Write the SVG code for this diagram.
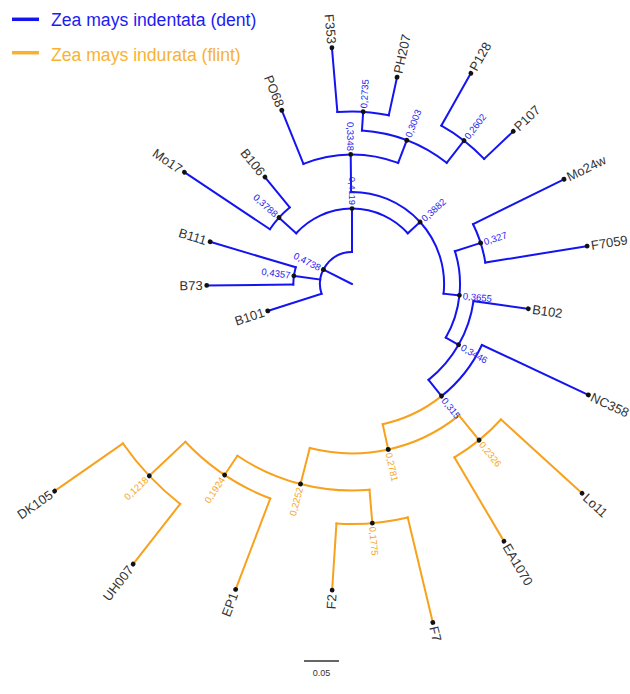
<svg xmlns="http://www.w3.org/2000/svg" width="630" height="694" viewBox="0 0 630 694">
<style>
.e{fill:none;stroke-width:2;stroke-linecap:square;stroke-linejoin:miter}
.b{stroke:#1414F0}
.o{stroke:#F7A11C}
.d{fill:#111}
.tip{font-family:"Liberation Sans",Arial,sans-serif;font-size:13px;fill:#333;dominant-baseline:central}
.nl{font-family:"Liberation Sans",Arial,sans-serif;font-size:9.5px;dominant-baseline:central}
.nb{fill:#2424F0}
.no{fill:#F5A623}
.leg{font-family:"Liberation Sans",Arial,sans-serif;font-size:17.6px}
</style>
<rect width="630" height="694" fill="#fff"/>
<g id="legend">
<line x1="12" y1="19.3" x2="39" y2="19.3" stroke="#1414F0" stroke-width="3.5"/>
<text class="leg" x="51" y="26" fill="#1C1CF5">Zea mays indentata (dent)</text>
<line x1="12" y1="52.7" x2="39" y2="52.7" stroke="#F9B030" stroke-width="3.5"/>
<text class="leg" x="51" y="60.5" fill="#F9B233">Zea mays indurata (flint)</text>
</g>
<g transform="translate(352 284)">
<g id="connectors">
<g class="e b">
<line x1="0" x2="32" transform="rotate(206.76)"/>
<path d="M32 0A32 32 0 0 1 -9.737 30.483" transform="rotate(162.286)"/>
<line x1="32" x2="88.4" transform="rotate(162.286)"/>
<line x1="32" x2="58.75" transform="rotate(188)"/>
<path d="M58.75 0A58.75 58.75 0 0 1 56.14 17.317" transform="rotate(179.429)"/>
<line x1="58.75" x2="145.3" transform="rotate(179.429)"/>
<line x1="58.75" x2="148" transform="rotate(196.571)"/>
<line x1="32" x2="75.45" transform="rotate(270)"/>
<path d="M75.45 0A75.45 75.45 0 0 1 -7.132 75.112" transform="rotate(222.286)"/>
<line x1="75.45" x2="98.69" transform="rotate(222.286)"/>
<path d="M98.69 0A98.69 98.69 0 0 1 94.305 29.09" transform="rotate(213.714)"/>
<line x1="98.69" x2="201.5" transform="rotate(213.714)"/>
<line x1="98.69" x2="137.9" transform="rotate(230.857)"/>
<line x1="75.45" x2="92.09" transform="rotate(317.71)"/>
<path d="M92.09 0A92.09 92.09 0 0 1 -10.538 91.485" transform="rotate(269.429)"/>
<line x1="92.09" x2="129.58" transform="rotate(269.429)"/>
<path d="M129.58 0A129.58 129.58 0 0 1 94.989 88.137" transform="rotate(248)"/>
<line x1="129.58" x2="187.4" transform="rotate(248)"/>
<line x1="129.58" x2="153.8" transform="rotate(290.857)"/>
<path d="M153.8 0A153.8 153.8 0 0 1 127.077 86.64" transform="rotate(273.714)"/>
<line x1="153.8" x2="172.61" transform="rotate(273.714)"/>
<path d="M172.61 0A172.61 172.61 0 0 1 164.941 50.879" transform="rotate(265.143)"/>
<line x1="172.61" x2="237.1" transform="rotate(265.143)"/>
<line x1="172.61" x2="211.7" transform="rotate(282.286)"/>
<line x1="153.8" x2="181.95" transform="rotate(308)"/>
<path d="M181.95 0A181.95 181.95 0 0 1 173.866 53.632" transform="rotate(299.429)"/>
<line x1="181.95" x2="242" transform="rotate(299.429)"/>
<line x1="181.95" x2="222.1" transform="rotate(316.571)"/>
<line x1="92.09" x2="108.03" transform="rotate(6)"/>
<path d="M108.03 0A108.03 108.03 0 0 1 73.111 79.535" transform="rotate(342.286)"/>
<line x1="108.03" x2="135.05" transform="rotate(342.286)"/>
<path d="M135.05 0A135.05 135.05 0 0 1 129.05 39.807" transform="rotate(333.714)"/>
<line x1="135.05" x2="236.5" transform="rotate(333.714)"/>
<line x1="135.05" x2="238.2" transform="rotate(350.857)"/>
<line x1="108.03" x2="122.7" transform="rotate(29.696)"/>
<path d="M122.7 0A122.7 122.7 0 0 1 89.162 84.297" transform="rotate(8)"/>
<line x1="122.7" x2="178.1" transform="rotate(8)"/>
<line x1="122.7" x2="143.48" transform="rotate(51.393)"/>
<path d="M143.48 0A143.48 143.48 0 0 1 128.684 63.46" transform="rotate(25.143)"/>
<line x1="143.48" x2="261.1" transform="rotate(25.143)"/>
</g>
<g class="e o">
<path d="M143.48 0A143.48 143.48 0 0 1 128.684 63.46" transform="rotate(51.393)"/>
<line x1="143.48" x2="169.38" transform="rotate(77.643)"/>
<path d="M169.38 0A169.38 169.38 0 0 1 100.58 136.285" transform="rotate(50.857)"/>
<line x1="169.38" x2="201.32" transform="rotate(50.857)"/>
<path d="M201.32 0A201.32 201.32 0 0 1 192.375 59.341" transform="rotate(42.286)"/>
<line x1="201.32" x2="311" transform="rotate(42.286)"/>
<line x1="201.32" x2="298.8" transform="rotate(59.429)"/>
<line x1="169.38" x2="206.52" transform="rotate(104.429)"/>
<path d="M206.52 0A206.52 206.52 0 0 1 161.466 128.761" transform="rotate(85.143)"/>
<line x1="206.52" x2="240" transform="rotate(85.143)"/>
<path d="M240 0A240 240 0 0 1 229.337 70.742" transform="rotate(76.571)"/>
<line x1="240" x2="348" transform="rotate(76.571)"/>
<line x1="240" x2="306.8" transform="rotate(93.714)"/>
<line x1="206.52" x2="229.54" transform="rotate(123.714)"/>
<path d="M229.54 0A229.54 229.54 0 0 1 206.811 99.593" transform="rotate(110.857)"/>
<line x1="229.54" x2="326.8" transform="rotate(110.857)"/>
<line x1="229.54" x2="279.1" transform="rotate(136.571)"/>
<path d="M279.1 0A279.1 279.1 0 0 1 266.7 82.268" transform="rotate(128)"/>
<line x1="279.1" x2="355.5" transform="rotate(128)"/>
<line x1="279.1" x2="362.4" transform="rotate(145.143)"/>
</g>
</g>
<g id="n-0.4738"><circle class="d" cx="32" r="2.4" transform="rotate(206.76)"/><text class="nl nb" x="35.5" text-anchor="end" transform="rotate(206.76) rotate(180 35.5 0)">0,4738</text></g>
<g id="n-0.4357"><circle class="d" cx="58.75" r="2.4" transform="rotate(188)"/><text class="nl nb" x="62.25" text-anchor="end" transform="rotate(188) rotate(180 62.25 0)">0,4357</text></g>
<g id="n-0.4119"><circle class="d" cx="75.45" r="2.4" transform="rotate(270)"/><text class="nl nb" x="78.95" text-anchor="end" transform="rotate(270) rotate(180 78.95 0)">0,4119</text></g>
<g id="n-0.3788"><circle class="d" cx="98.69" r="2.4" transform="rotate(222.286)"/><text class="nl nb" x="102.19" text-anchor="end" transform="rotate(222.286) rotate(180 102.19 0)">0,3788</text></g>
<g id="n-0.3882"><circle class="d" cx="92.09" r="2.4" transform="rotate(317.71)"/><text class="nl nb" x="95.59" transform="rotate(317.71)">0,3882</text></g>
<g id="n-0.3348"><circle class="d" cx="129.58" r="2.4" transform="rotate(269.429)"/><text class="nl nb" x="133.08" text-anchor="end" transform="rotate(269.429) rotate(180 133.08 0)">0,3348</text></g>
<g id="n-0.3003"><circle class="d" cx="153.8" r="2.4" transform="rotate(290.857)"/><text class="nl nb" x="157.3" transform="rotate(290.857)">0,3003</text></g>
<g id="n-0.2735"><circle class="d" cx="172.61" r="2.4" transform="rotate(273.714)"/><text class="nl nb" x="176.11" transform="rotate(273.714)">0,2735</text></g>
<g id="n-0.2602"><circle class="d" cx="181.95" r="2.4" transform="rotate(308)"/><text class="nl nb" x="185.45" transform="rotate(308)">0,2602</text></g>
<g id="n-0.3655"><circle class="d" cx="108.03" r="2.4" transform="rotate(6)"/><text class="nl nb" x="111.53" transform="rotate(6)">0,3655</text></g>
<g id="n-0.327"><circle class="d" cx="135.05" r="2.4" transform="rotate(342.286)"/><text class="nl nb" x="138.55" transform="rotate(342.286)">0,327</text></g>
<g id="n-0.3446"><circle class="d" cx="122.7" r="2.4" transform="rotate(29.696)"/><text class="nl nb" x="126.2" transform="rotate(29.696)">0,3446</text></g>
<g id="n-0.315"><circle class="d" cx="143.48" r="2.4" transform="rotate(51.393)"/><text class="nl nb" x="146.98" transform="rotate(51.393)">0,315</text></g>
<g id="n-0.2781"><circle class="d" cx="169.38" r="2.4" transform="rotate(77.643)"/><text class="nl no" x="172.88" transform="rotate(77.643)">0,2781</text></g>
<g id="n-0.2326"><circle class="d" cx="201.32" r="2.4" transform="rotate(50.857)"/><text class="nl no" x="204.82" transform="rotate(50.857)">0,2326</text></g>
<g id="n-0.2252"><circle class="d" cx="206.52" r="2.4" transform="rotate(104.429)"/><text class="nl no" x="210.02" text-anchor="end" transform="rotate(104.429) rotate(180 210.02 0)">0,2252</text></g>
<g id="n-0.1775"><circle class="d" cx="240" r="2.4" transform="rotate(85.143)"/><text class="nl no" x="243.5" transform="rotate(85.143)">0,1775</text></g>
<g id="n-0.1924"><circle class="d" cx="229.54" r="2.4" transform="rotate(123.714)"/><text class="nl no" x="233.04" text-anchor="end" transform="rotate(123.714) rotate(180 233.04 0)">0,1924</text></g>
<g id="n-0.1218"><circle class="d" cx="279.1" r="2.4" transform="rotate(136.571)"/><text class="nl no" x="282.6" text-anchor="end" transform="rotate(136.571) rotate(180 282.6 0)">0,1218</text></g>
<g id="B101"><circle class="d" cx="88.4" r="2.4" transform="rotate(162.286)"/><text class="tip" x="92.4" text-anchor="end" transform="rotate(162.286) rotate(180 92.4 0)">B101</text></g>
<g id="B73"><circle class="d" cx="145.3" r="2.4" transform="rotate(179.429)"/><text class="tip" x="149.3" text-anchor="end" transform="rotate(179.429) rotate(180 149.3 0)">B73</text></g>
<g id="B111"><circle class="d" cx="148" r="2.4" transform="rotate(196.571)"/><text class="tip" x="152" text-anchor="end" transform="rotate(196.571) rotate(180 152 0)">B111</text></g>
<g id="Mo17"><circle class="d" cx="201.5" r="2.4" transform="rotate(213.714)"/><text class="tip" x="205.5" text-anchor="end" transform="rotate(213.714) rotate(180 205.5 0)">Mo17</text></g>
<g id="B106"><circle class="d" cx="137.9" r="2.4" transform="rotate(230.857)"/><text class="tip" x="141.9" text-anchor="end" transform="rotate(230.857) rotate(180 141.9 0)">B106</text></g>
<g id="PO68"><circle class="d" cx="187.4" r="2.4" transform="rotate(248)"/><text class="tip" x="191.4" text-anchor="end" transform="rotate(248) rotate(180 191.4 0)">PO68</text></g>
<g id="F353"><circle class="d" cx="237.1" r="2.4" transform="rotate(265.143)"/><text class="tip" x="241.1" text-anchor="end" transform="rotate(265.143) rotate(180 241.1 0)">F353</text></g>
<g id="PH207"><circle class="d" cx="211.7" r="2.4" transform="rotate(282.286)"/><text class="tip" x="215.7" transform="rotate(282.286)">PH207</text></g>
<g id="P128"><circle class="d" cx="242" r="2.4" transform="rotate(299.429)"/><text class="tip" x="246" transform="rotate(299.429)">P128</text></g>
<g id="P107"><circle class="d" cx="222.1" r="2.4" transform="rotate(316.571)"/><text class="tip" x="226.1" transform="rotate(316.571)">P107</text></g>
<g id="Mo24w"><circle class="d" cx="236.5" r="2.4" transform="rotate(333.714)"/><text class="tip" x="240.5" transform="rotate(333.714)">Mo24w</text></g>
<g id="F7059"><circle class="d" cx="238.2" r="2.4" transform="rotate(350.857)"/><text class="tip" x="242.2" transform="rotate(350.857)">F7059</text></g>
<g id="B102"><circle class="d" cx="178.1" r="2.4" transform="rotate(8)"/><text class="tip" x="182.1" transform="rotate(8)">B102</text></g>
<g id="NC358"><circle class="d" cx="261.1" r="2.4" transform="rotate(25.143)"/><text class="tip" x="264.6" transform="rotate(25.143)">NC358</text></g>
<g id="Lo11"><circle class="d" cx="311" r="2.4" transform="rotate(42.286)"/><text class="tip" x="315" transform="rotate(42.286)">Lo11</text></g>
<g id="EA1070"><circle class="d" cx="298.8" r="2.4" transform="rotate(59.429)"/><text class="tip" x="302.8" transform="rotate(59.429)">EA1070</text></g>
<g id="F7"><circle class="d" cx="348" r="2.4" transform="rotate(76.571)"/><text class="tip" x="352" transform="rotate(76.571)">F7</text></g>
<g id="F2"><circle class="d" cx="306.8" r="2.4" transform="rotate(93.714)"/><text class="tip" x="310.8" text-anchor="end" transform="rotate(93.714) rotate(180 310.8 0)">F2</text></g>
<g id="EP1"><circle class="d" cx="326.8" r="2.4" transform="rotate(110.857)"/><text class="tip" x="330.8" text-anchor="end" transform="rotate(110.857) rotate(180 330.8 0)">EP1</text></g>
<g id="UH007"><circle class="d" cx="355.5" r="2.4" transform="rotate(128)"/><text class="tip" x="359.5" text-anchor="end" transform="rotate(128) rotate(180 359.5 0)">UH007</text></g>
<g id="DK105"><circle class="d" cx="362.4" r="2.4" transform="rotate(145.143)"/><text class="tip" x="366.4" text-anchor="end" transform="rotate(145.143) rotate(180 366.4 0)">DK105</text></g>
</g>
<g id="scale-bar">
<line x1="304" y1="661" x2="339" y2="661" stroke="#333" stroke-width="1.4"/>
<text x="321.5" y="676" text-anchor="middle" font-family="Liberation Sans, Arial, sans-serif" font-size="9" fill="#333">0.05</text>
</g>
</svg>
